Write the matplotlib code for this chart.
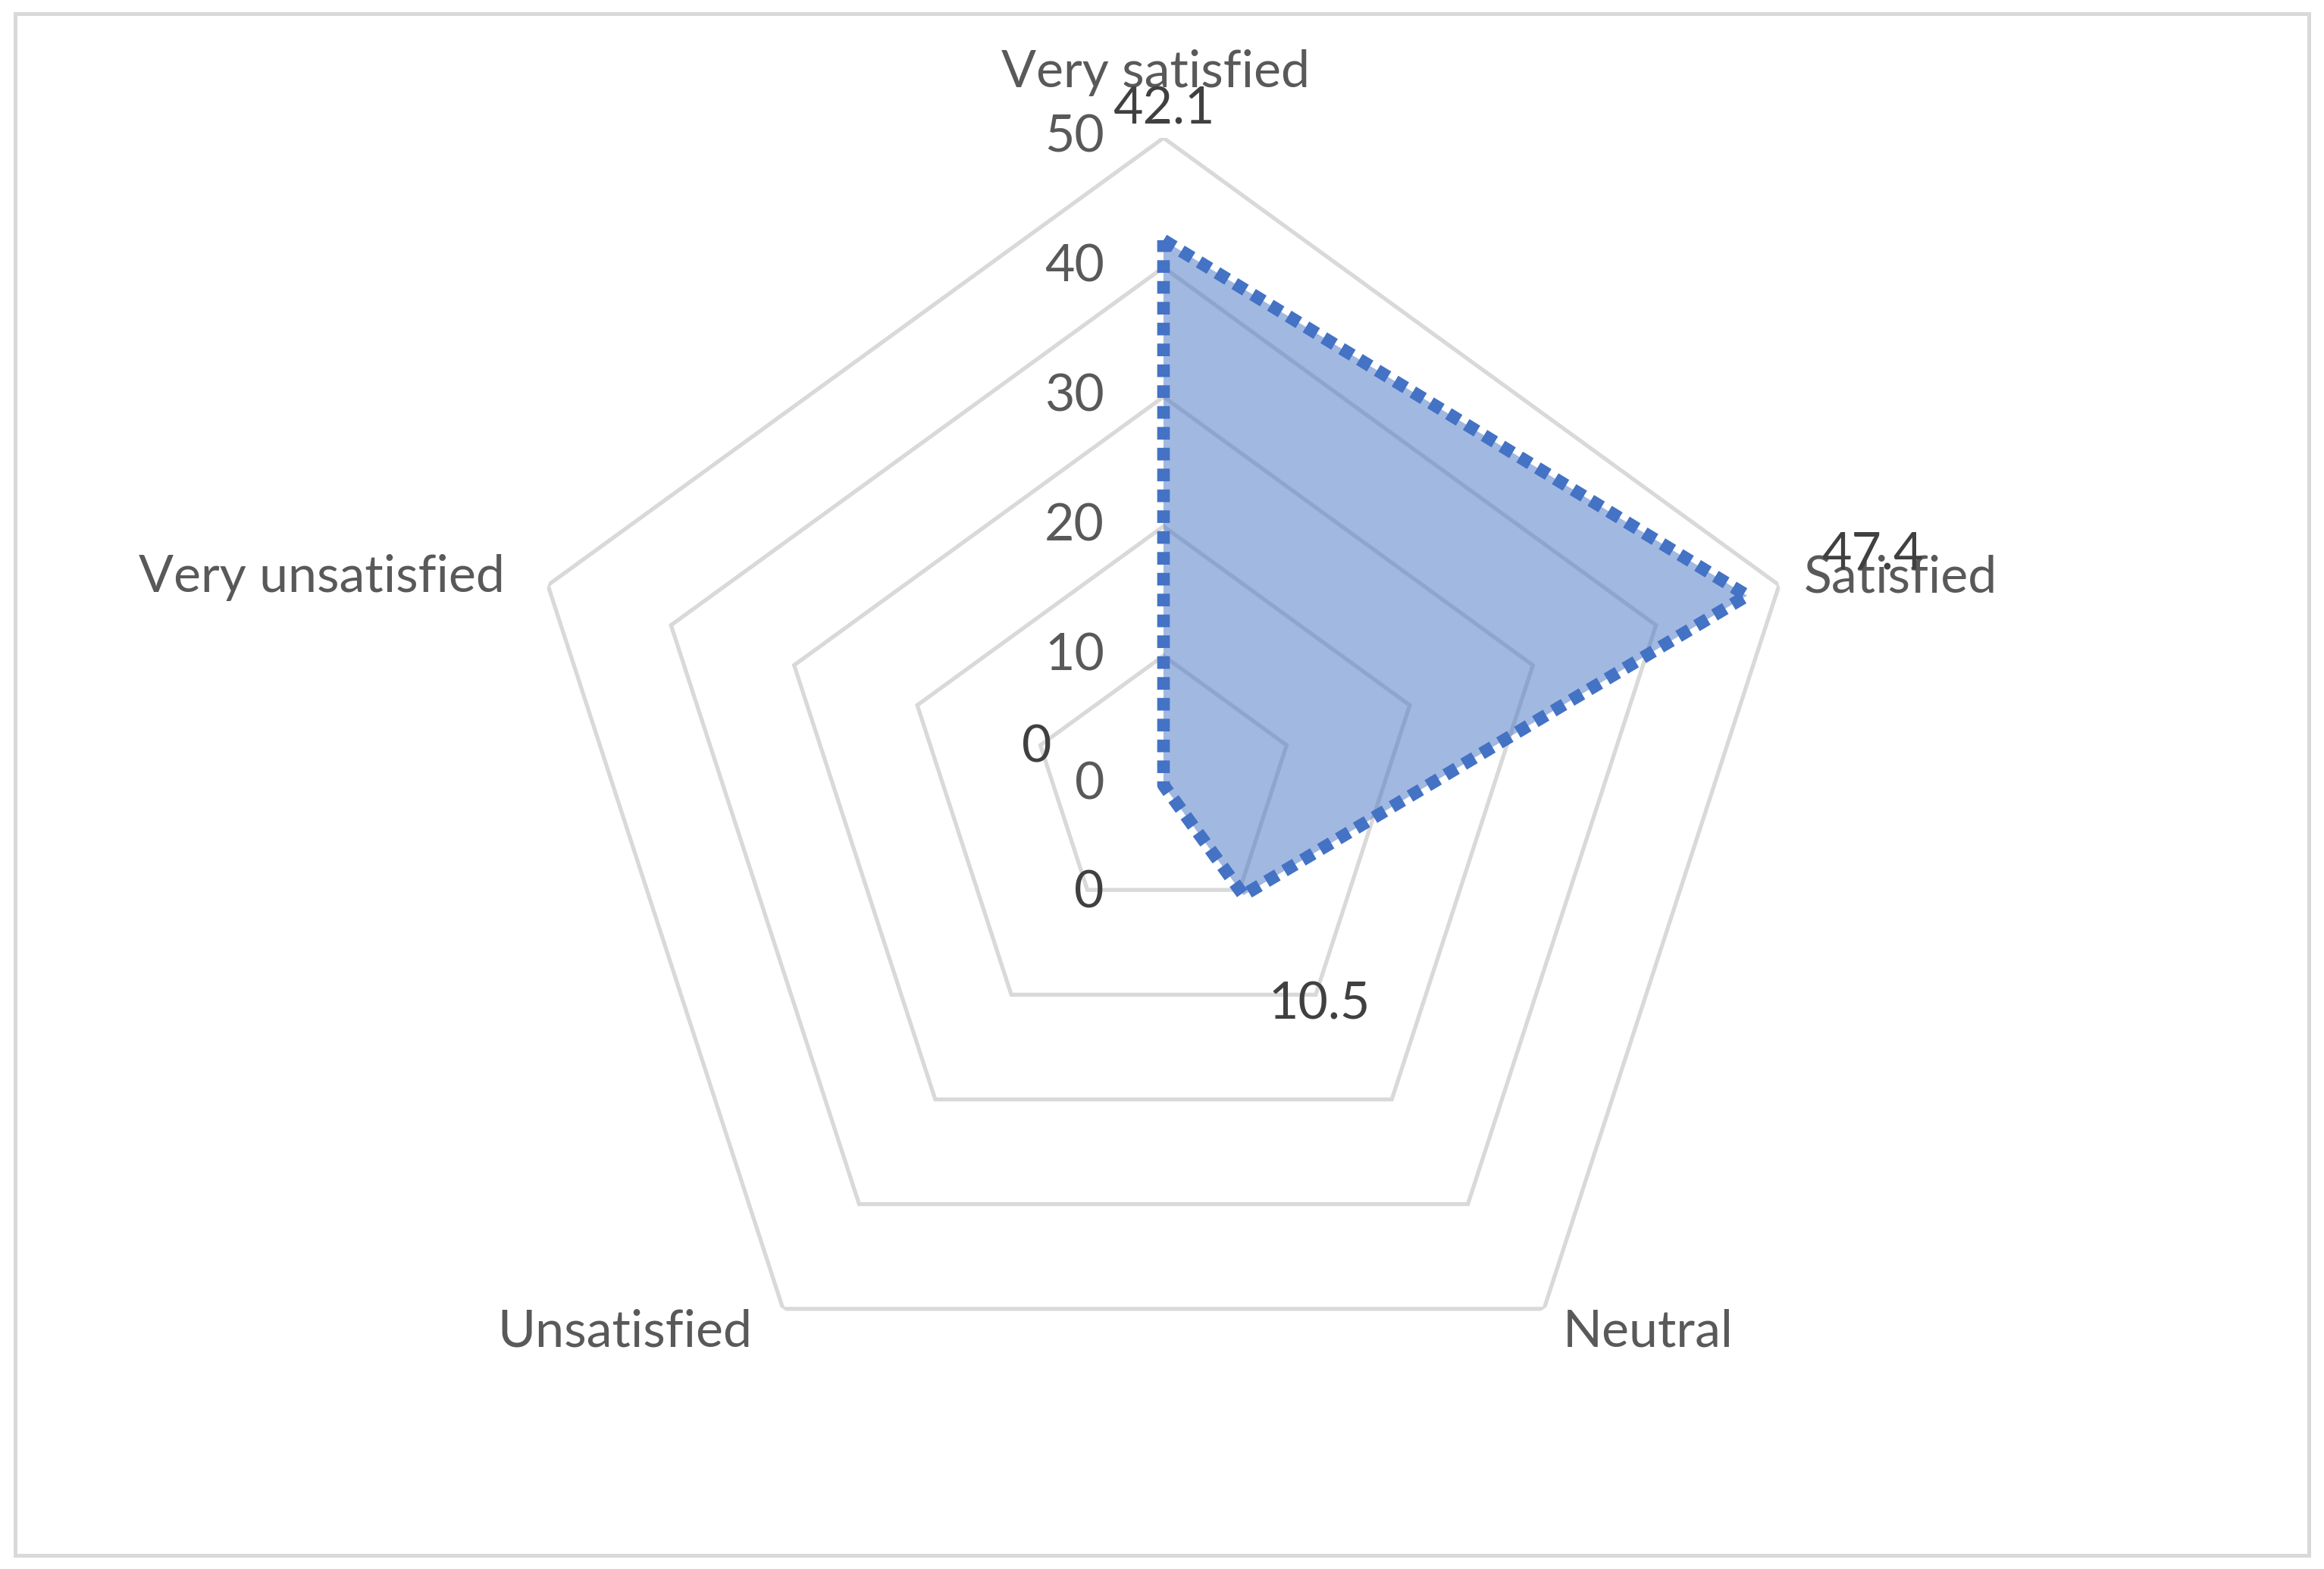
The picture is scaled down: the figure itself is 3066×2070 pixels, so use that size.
import numpy as np
import matplotlib
matplotlib.use("Agg")
import matplotlib.pyplot as plt
from matplotlib.patches import Rectangle

categories = ["Very satisfied", "Satisfied", "Neutral", "Unsatisfied", "Very unsatisfied"]
values = [42.1, 47.4, 10.5, 0, 0]
rings = [10, 20, 30, 40, 50]
tick_values = [0, 10, 20, 30, 40, 50]

plt.rcParams['font.family'] = ['Lato', 'DejaVu Sans']

fig = plt.figure(figsize=(15.33, 10.35), dpi=200)
ax = fig.add_axes([0.2221, 0.0870, 0.5571, 0.8251], projection='polar')
ax.set_theta_offset(np.pi / 2)
ax.set_theta_direction(-1)
ax.set_ylim(0, 50)
ax.set_frame_on(False)
ax.grid(False)
ax.set_xticks([])
ax.set_yticks([])

n = len(categories)
angles = np.linspace(0, 2 * np.pi, n, endpoint=False)
closed = np.append(angles, angles[0])

grid_col = '#D9D9D9'
for r in rings:
    ax.plot(closed, [r] * (n + 1), color=grid_col, lw=1.9, zorder=1, solid_joinstyle='miter')

vals = np.append(values, values[0])
ax.fill(closed, vals, color='#4472C4', alpha=0.5, lw=0, zorder=2)
ax.plot(closed, vals, color='#4472C4', lw=6.0, ls=(0, (1, 0.65)), zorder=3,
        dash_capstyle='butt')

# radial tick labels
for t in tick_values:
    ax.annotate(str(t), xy=(0, t), xytext=(-78, 0), textcoords='offset pixels',
                ha='right', va='center', fontsize=24.5, color='#595959',
                annotation_clip=False)

# category labels
cat_offsets = [(-10, 86), (33, 10), (25, -31), (-41, -31), (-57, 10)]
cat_ha = ['center', 'left', 'left', 'right', 'right']
for a, lab, off, ha in zip(angles, categories, cat_offsets, cat_ha):
    ax.annotate(lab, xy=(a, 50), xytext=off, textcoords='offset pixels',
                ha=ha, va='center', fontsize=24.5, color='#595959',
                annotation_clip=False)

# data labels
val_offsets = [(0, 172), (165, 54), (100, -144), (-98, -143), (-167, 49)]
for a, v, off in zip(angles, values, val_offsets):
    lab = '0' if v == 0 else f'{v:.1f}'
    ax.annotate(lab, xy=(a, v), xytext=off, textcoords='offset pixels',
                ha='center', va='center', fontsize=24.5, color='#404040',
                annotation_clip=False, zorder=5)

# chart border
fig.patches.append(Rectangle((20 / 3066, 18 / 2070), 3026 / 3066, 2034 / 2070,
                             transform=fig.transFigure, fill=False,
                             edgecolor=grid_col, lw=1.8))

fig.savefig('out.png', dpi=200, facecolor='white')
